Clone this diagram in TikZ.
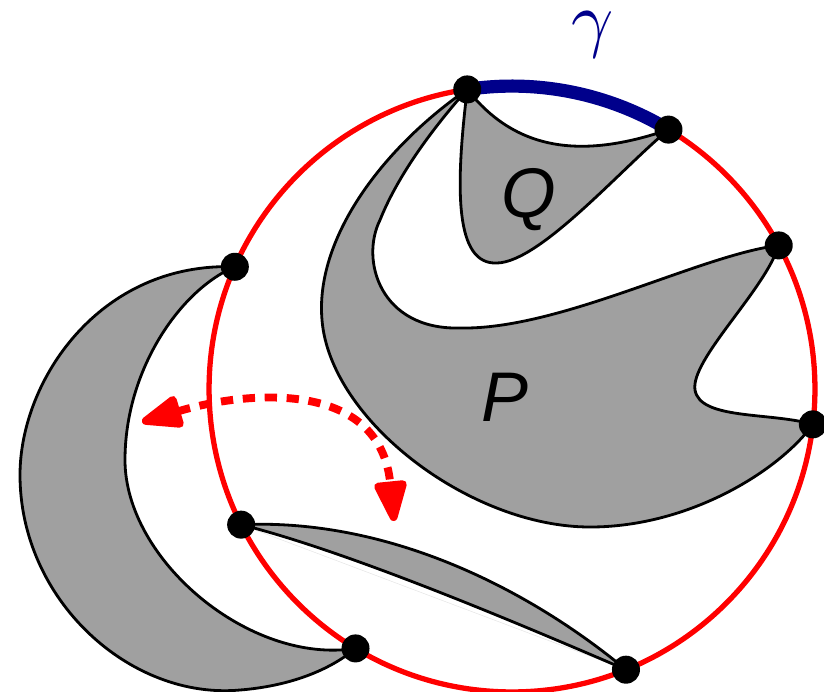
\documentclass[tikz,border=0pt]{standalone}
\usepackage{fontspec}
\newfontfamily\regionfont{Liberation Sans}
\usetikzlibrary{arrows.meta}
\definecolor{regiongray}{RGB}{160,160,160}
\definecolor{arcblue}{RGB}{0,0,139}

\begin{document}
\begin{tikzpicture}[x=0.02cm, y=-0.02cm,
    region/.style={fill=regiongray, draw=black, line width=1.6pt},
    boundary/.style={red, line width=3pt},
    arcgamma/.style={arcblue, line width=7.5pt},
    chord/.style={black!10, line width=0.3pt},
    crossing/.style={red, line width=4.5pt, dash pattern=on 7pt off 5.5pt,
        >={Triangle[length=0.95cm, width=0.68cm, round]}, <->},
    regionlabel/.style={font=\regionfont\itshape\fontsize{40}{48}\selectfont}]

  \useasboundingbox (0,0) rectangle (824,691);

  % ========== 圆与圆上的点 ==========
  \coordinate (O) at (512,389);
  \foreach \n/\ang in {a/98.5, b/58.9, c/28.3, d/-6.7, e/-67.9, f/238.9, g/206.6, h/156.2}
    \coordinate (\n) at ([shift={(\ang:6.06cm)}]O);

  % ========== 区域 P ==========
  \path[region] (a) .. controls (380,150) and (315,240) .. (322,320)
       .. controls (330,420) and (470,527) .. (590,527)
       .. controls (690,527) and (780,470) .. (d)
       .. controls (770,412) and (700,420) .. (695,390)
       .. controls (690,360) and (765,290) .. (c)
       .. controls (700,255) and (560,330) .. (460,328)
       .. controls (380,330) and (360,260) .. (380,220)
       .. controls (400,170) and (440,120) .. cycle;

  % ========== 区域 Q ==========
  \path[region] (a) .. controls (455,190) and (455,265) .. (497,263)
       .. controls (540,262) and (620,170) .. (b)
       .. controls (580,160) and (515,150) .. cycle;

  % 左边的月牙
  \path[region] (h) .. controls (100,262) and (20,380) .. (20,475)
       .. controls (20,600) and (130,700) .. (240,690)
       .. controls (290,686) and (330,670) .. (f)
       .. controls (250,665) and (125,560) .. (125,460)
       .. controls (125,370) and (180,290) .. cycle;

  % 下面的细长区域
  \draw[chord] (g) -- (e);
  \path[region] (g) .. controls (390,518) and (530,590) .. (e)
       .. controls (520,624) and (350,552) .. cycle;

  % 红色圆周，蓝色弧 gamma
  \draw[boundary] (O) circle[radius=6.06cm];
  \draw[arcgamma] (a) arc[start angle=98.5, end angle=58.9, radius=6.06cm];

  \foreach \n in {a,...,h}
    \fill (\n) circle[radius=0.28cm];

  \node[regionlabel] (Plabel) at (505,397) {P};
  \node[regionlabel] (Qlabel) at (529,200) {Q};
  \node[arcblue, scale=4.2, inner sep=0pt] (gammalabel) at (593,35) {$\gamma$};

  % 红色虚线双箭头
  \coordinate (tipL) at (142,422);
  \coordinate (tipR) at (394,521);
  \draw[crossing] (tipL) .. controls (250,390) and (380,380) .. (tipR);

\end{tikzpicture}
\end{document}
